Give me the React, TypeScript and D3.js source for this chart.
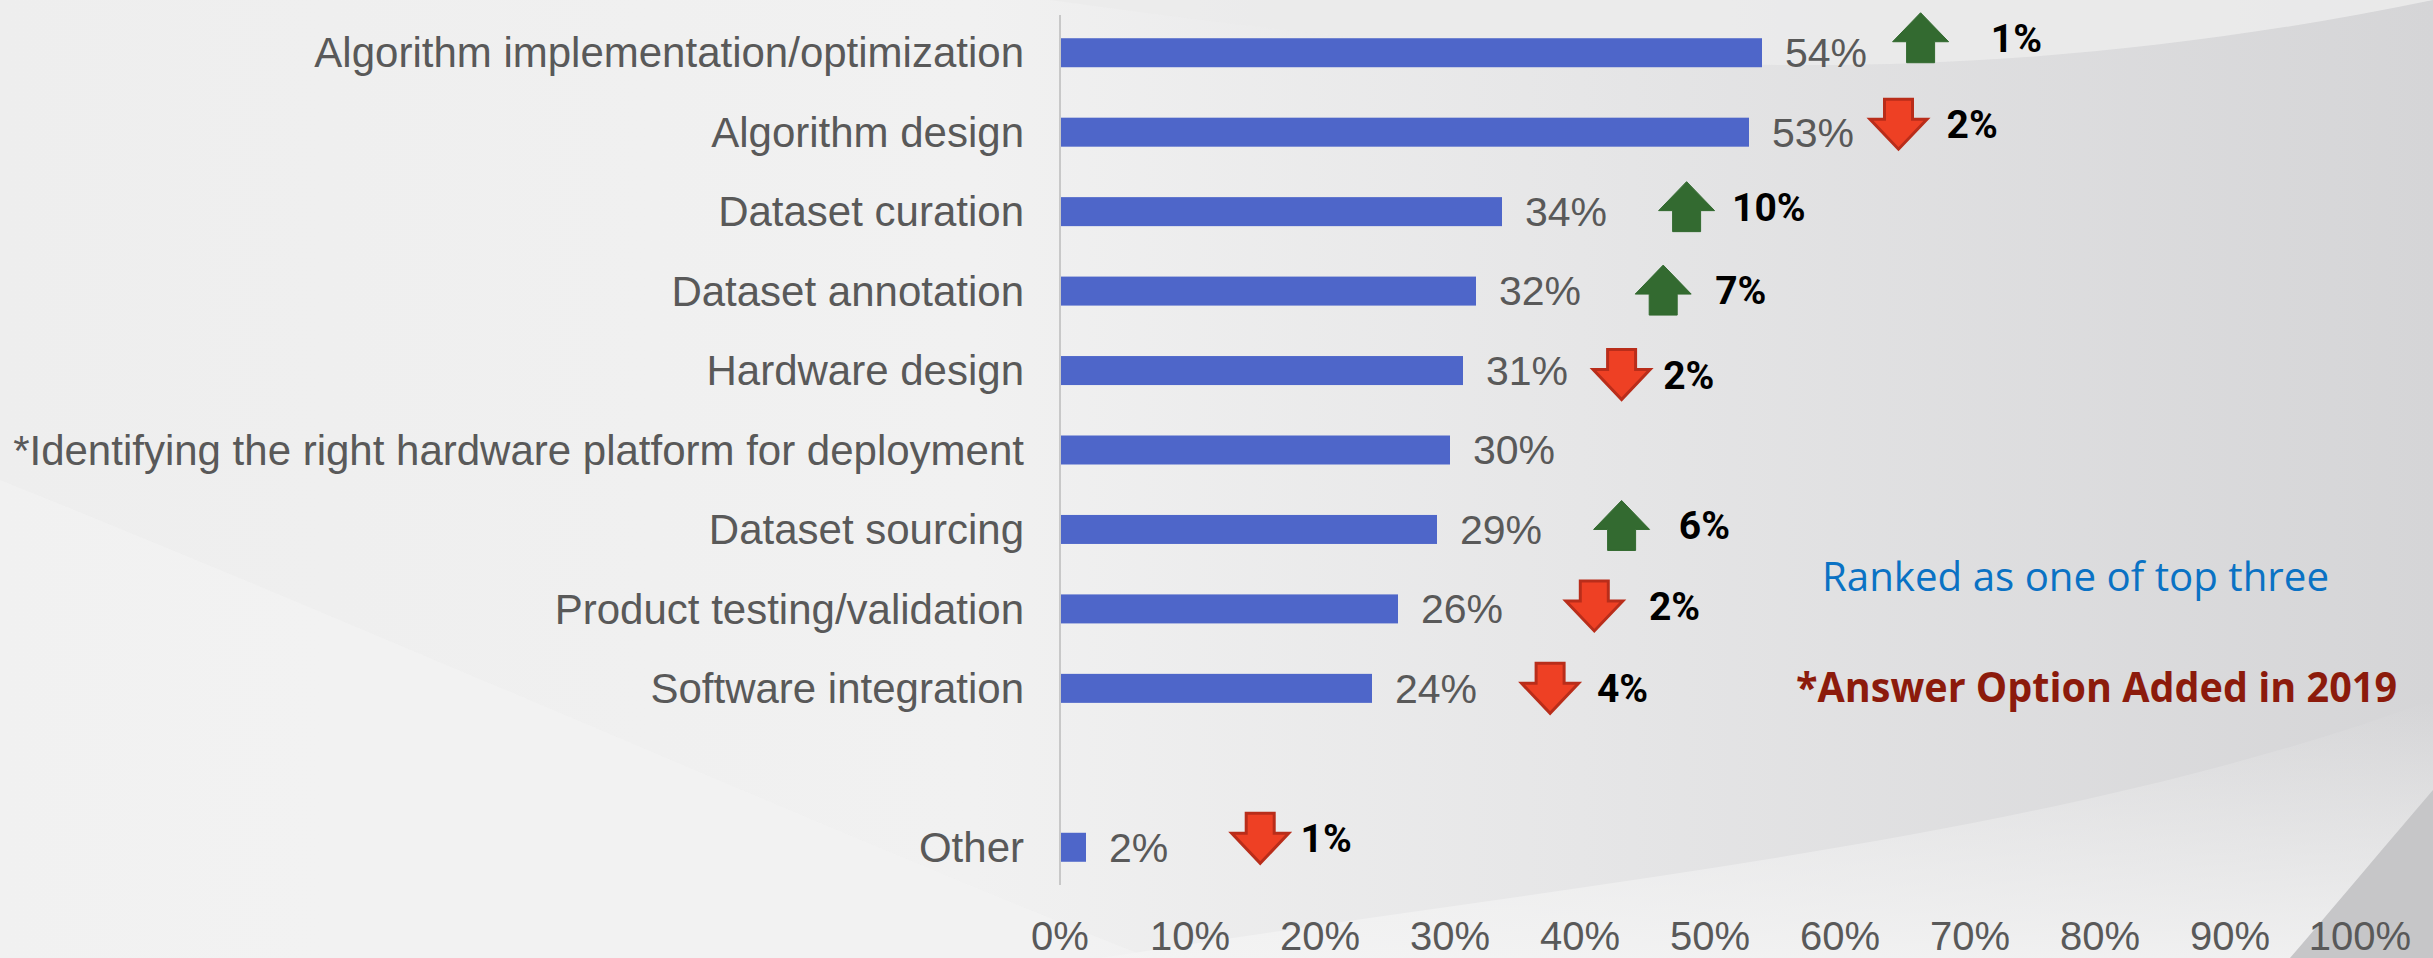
import React from 'react';
import * as d3 from 'd3';

// survey rows, top to bottom ('' is the spacer row before "Other")
const categories = [
  'Algorithm implementation/optimization',
  'Algorithm design',
  'Dataset curation',
  'Dataset annotation',
  'Hardware design',
  '*Identifying the right hardware platform for deployment',
  'Dataset sourcing',
  'Product testing/validation',
  'Software integration',
  '',
  'Other',
];
const values: (number | null)[] = [54, 53, 34, 32, 31, 30, 29, 26, 24, null, 2];
// change vs previous year, in points (null = no comparison)
const changes: (number | null)[] = [1, -2, 10, 7, -2, null, 6, -2, -4, null, -1];
const xTicks = [0, 10, 20, 30, 40, 50, 60, 70, 80, 90, 100];

// where the hand-placed change markers sit, in axis units (%)
const arrowAt: (number | null)[] = [66.2, 64.5, 48.2, 46.4, 43.2, null, 43.2, 41.1, 37.7, null, 15.4];
const changeLabelAt: (number | null)[] = [71.6, 68.2, 51.7, 50.4, 46.4, null, 47.6, 45.3, 41.3, null, 18.5];
const markerNudge = [-15, -8, -5, -1, 4, 0, -4, -3, 0, 0, -9];

const W = 2433;
const H = 958;
const GRAY_TEXT = '#595959';
const BAR = '#4e66c9';
const LABEL_FONT = "'Liberation Sans', Arial, sans-serif";

const arrowPath = (cx: number, cy: number, up: boolean) => {
  const top = cy - 25;
  const pts = up
    ? [[cx, top], [cx + 28, top + 29], [cx + 14, top + 29], [cx + 14, top + 50], [cx - 14, top + 50], [cx - 14, top + 29], [cx - 28, top + 29]]
    : [[cx - 14, top], [cx + 14, top], [cx + 14, top + 20], [cx + 28.5, top + 20], [cx, top + 50], [cx - 28.5, top + 20], [cx - 14, top + 20]];
  return d3.line()(pts as [number, number][]) + 'Z';
};

const App: React.FC = () => {
  const x = d3.scaleLinear().domain([0, 100]).range([1060, 2360]);
  const y = d3
    .scaleBand<string>()
    .domain(categories.map((_, i) => String(i)))
    .range([13, 887])
    .paddingInner(0.635)
    .paddingOuter(0.3175);
  const bw = y.bandwidth();
  const mid = (i: number) => y(String(i))! + bw / 2;

  return (
    <svg width={W} height={H} style={{ position: 'fixed', left: 0, top: 0, display: 'block' }}>
      <defs>
        <linearGradient id="bg" x1="0" x2="1" y1="0" y2="0">
          <stop offset="0%" stopColor="#eeeeee" />
          <stop offset="40%" stopColor="#f1f1f1" />
          <stop offset="65%" stopColor="#e6e6e7" />
          <stop offset="100%" stopColor="#d5d5d7" />
        </linearGradient>
        <linearGradient id="bgBottom" x1="0" x2="0" y1="0" y2="1">
          <stop offset="0%" stopColor="#f4f4f4" stopOpacity={0} />
          <stop offset="100%" stopColor="#f4f4f4" stopOpacity={0.85} />
        </linearGradient>
      </defs>

      {/* background swooshes */}
      <rect width={W} height={H} fill="url(#bg)" />
      <path d="M1050,0 C1500,60 1900,110 2433,0 Z" fill="#ebebeb" opacity={0.9} />
      <path d="M0,480 C400,640 800,820 1150,958 L0,958 Z" fill="#f4f4f4" opacity={0.6} />
      <path d="M1100,958 C1600,880 2050,840 2433,700 L2433,958 Z" fill="url(#bgBottom)" />
      <path d="M2290,958 C2340,900 2390,840 2433,790 L2433,958 Z" fill="#c6c6c8" />

      {/* category axis line */}
      <line x1={x(0)} x2={x(0)} y1={15} y2={885} stroke="#c8c8c8" strokeWidth={2} />

      {categories.map((c, i) => {
        const v = values[i];
        if (v == null) return null;
        const cy = mid(i);
        return (
          <g key={i}>
            <text x={1024} y={cy} dy="0.35em" textAnchor="end" fontFamily={LABEL_FONT} fontSize={42} fill={GRAY_TEXT}>
              {c}
            </text>
            <rect x={x(0) + 1} y={y(String(i))!} width={x(v) - x(0) - 1} height={bw} fill={BAR} />
            <text x={x(v) + 23} y={cy} dy="0.35em" fontFamily={LABEL_FONT} fontSize={41} fill={GRAY_TEXT}>
              {v}%
            </text>
          </g>
        );
      })}

      {/* year-over-year change markers */}
      {changes.map((ch, i) => {
        if (ch == null) return null;
        const cy = mid(i) + markerNudge[i];
        const up = ch > 0;
        return (
          <g key={'ch' + i}>
            <path
              d={arrowPath(x(arrowAt[i]!), cy, up)}
              fill={up ? '#336a30' : '#ee4024'}
              stroke={up ? '#336a30' : '#b92d1a'}
              strokeWidth={up ? 1 : 3}
            />
            <text
              x={x(changeLabelAt[i]!)}
              y={cy}
              dy="0.36em"
              fontFamily="Roboto, 'Noto Sans', sans-serif"
              fontWeight={700}
              fontSize={39}
              fill="#000000"
            >
              {Math.abs(ch)}%
            </text>
          </g>
        );
      })}

      {/* x tick labels */}
      {xTicks.map((t) => (
        <text key={t} x={x(t)} y={950} textAnchor="middle" fontFamily={LABEL_FONT} fontSize={40} fill={GRAY_TEXT}>
          {t}%
        </text>
      ))}

      {/* notes */}
      <text
        x={1822}
        y={591}
        fontFamily="'Open Sans', 'Noto Sans', sans-serif"
        fontSize={40}
        fill="#0a72c4"
        textLength={507}
        lengthAdjust="spacingAndGlyphs"
      >
        Ranked as one of top three
      </text>
      <text
        x={1796}
        y={702}
        fontFamily="'Open Sans', 'Noto Sans', sans-serif"
        fontWeight={700}
        fontSize={41}
        fill="#8c1b0c"
        textLength={601}
        lengthAdjust="spacingAndGlyphs"
      >
        *Answer Option Added in 2019
      </text>
    </svg>
  );
};

export default App;
